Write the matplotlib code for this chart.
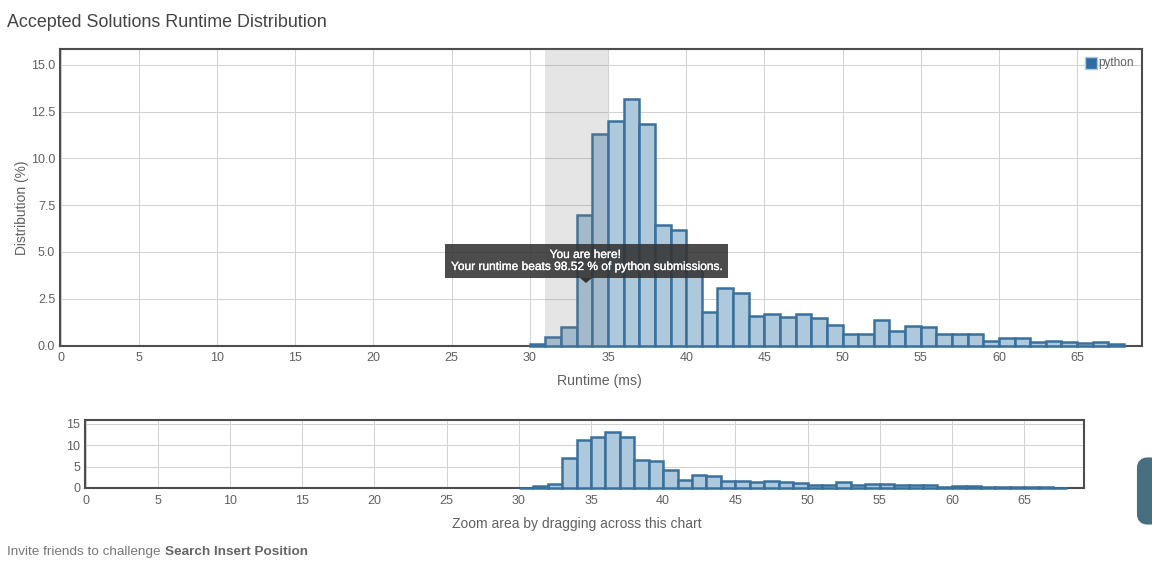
import numpy as np
import matplotlib.pyplot as plt
import matplotlib.patheffects as pe
from matplotlib.patches import Rectangle, Polygon, FancyBboxPatch

plt.rcParams['font.family'] = ['Liberation Sans', 'DejaVu Sans']

W, H = 1152, 561

# runtime bins (left edge, ms) and share of submissions (%)
runtime = [30, 31, 32, 33, 34, 35, 36, 37, 38, 39, 40, 41, 42, 43, 44, 45, 46, 47, 48,
           49, 50, 51, 52, 53, 54, 55, 56, 57, 58, 59, 60, 61, 62, 63, 64, 65, 66, 67]
distribution = [0.1, 0.48, 1.0, 7.0, 11.3, 12.0, 13.2, 11.85, 6.45, 6.2, 4.3, 1.8, 3.05,
                2.8, 1.6, 1.7, 1.5, 1.7, 1.45, 1.1, 0.6, 0.6, 1.35, 0.75, 1.05, 1.0, 0.6,
                0.6, 0.6, 0.25, 0.38, 0.38, 0.18, 0.25, 0.2, 0.15, 0.2, 0.07]
main_yticks = [0, 2.5, 5, 7.5, 10, 12.5, 15]
main_ylabels = ["0.0", "2.5", "5.0", "7.5", "10.0", "12.5", "15.0"]
nav_yticks = [0, 5, 10, 15]
xticks = list(range(0, 70, 5))
highlight = (31, 35)

EDGE = "#3a709c"
FILL = "#aec8dc"
TEXT = "#606060"


def px_axes(fig, left, top, right, bottom):
    return fig.add_axes([left / W, 1 - bottom / H, (right - left) / W, (bottom - top) / H])


def style(ax, ymax, yticks, ylabels, size):
    ax.bar(runtime, distribution, width=1, align='edge', color=FILL, edgecolor=EDGE,
           linewidth=1.8, zorder=3, clip_on=False)
    ax.set_xlim(-0.05, 69.15)
    ax.set_ylim(0, ymax)
    ax.set_xticks(xticks)
    ax.set_yticks(yticks)
    ax.set_yticklabels(ylabels)
    ax.grid(True, color="#d2d2d2", linewidth=0.75)
    ax.set_axisbelow(True)
    ax.tick_params(axis='x', length=0, labelcolor=TEXT, labelsize=size, pad=5)
    ax.tick_params(axis='y', length=0, labelcolor=TEXT, labelsize=size, pad=3.5)
    for s in ax.spines.values():
        s.set_color("#4d4d4d")
        s.set_linewidth(1.5)
        s.set_zorder(2)


fig = plt.figure(figsize=(W / 100, H / 100), dpi=100)

ax = px_axes(fig, 60, 49, 1142, 345.5)
style(ax, 15.85, main_yticks, main_ylabels, 9)
ax.axvspan(highlight[0], highlight[1], color="#7f7f7f", alpha=0.2, linewidth=0, zorder=4)
ax.set_xlabel("Runtime (ms)", fontsize=10.2, color=TEXT)
ax.xaxis.set_label_coords(0.4986, -0.095)
ax.set_ylabel("Distribution (%)", fontsize=9.9, color=TEXT)
ax.yaxis.set_label_coords(-0.0286, 0.465)

nav = px_axes(fig, 85, 420, 1084, 488)
style(nav, 15.9, nav_yticks, [str(v) for v in nav_yticks], 9)
nav.set_xlabel("Zoom area by dragging across this chart", fontsize=10, color=TEXT)
nav.xaxis.set_label_coords(0.4925, -0.42)

# overlay in pixel coordinates for the page furniture
over = fig.add_axes([0, 0, 1, 1], zorder=10)
over.set_xlim(0, W)
over.set_ylim(H, 0)
over.axis('off')

over.text(7, 22, "Accepted Solutions Runtime Distribution", fontsize=12.9, color="#444444",
          va='center', ha='left')

over.add_patch(Rectangle((1085, 57), 12, 11.5, facecolor="#2f6ca3", edgecolor="#a9c9e6", linewidth=1))
over.text(1098, 62.5, "python", fontsize=8.5, color=TEXT, va='center', ha='left')

# tooltip
over.add_patch(Rectangle((445, 244), 283, 34, facecolor="#333333", alpha=0.88, linewidth=0))
over.add_patch(Polygon([[580, 278], [592, 278], [586, 283]], closed=True, facecolor="#333333", linewidth=0))
bold_ish = [pe.withStroke(linewidth=0.2, foreground="white")]
over.text(585, 255, "You are here!", fontsize=8.6, color="white", ha='center', va='center',
          path_effects=bold_ish)
over.text(586, 267, "Your runtime beats 98.52 % of python submissions.", fontsize=8.6, color="white",
          ha='center', va='center', path_effects=bold_ish)

over.text(7, 552, "Invite friends to challenge", fontsize=9.7, color="#777777", va='center', ha='left')
over.text(165, 552, "Search Insert Position", fontsize=9.7, color="#666666", va='center', ha='left',
          fontweight='bold')

# feedback tab at the right edge
over.add_patch(FancyBboxPatch((1142.5, 463), 20, 56, boxstyle="round,pad=0,rounding_size=5",
                              facecolor="#46707f", edgecolor="#46707f", linewidth=8, clip_on=True))

fig.savefig("out.png", dpi=100)
plt.close(fig)
